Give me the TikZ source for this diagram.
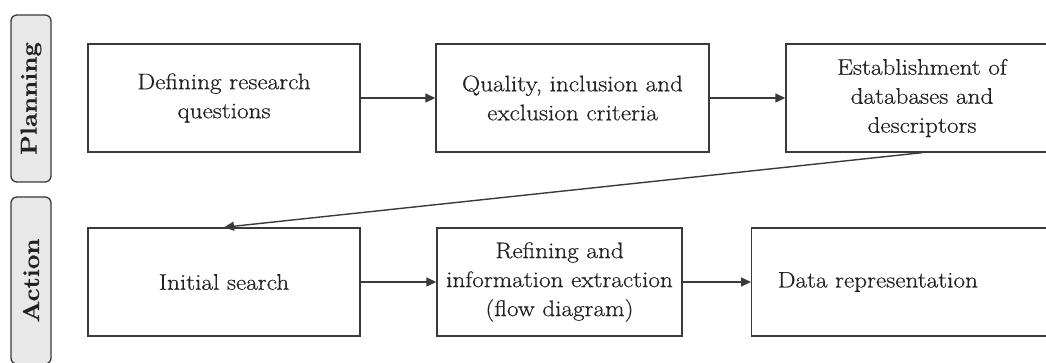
\documentclass[tikz,border=0pt]{standalone}
\usepackage{fontspec}
\setmainfont{Latin Modern Roman}[FakeStretch=1.12, FakeBold=0.6]
\usetikzlibrary{arrows.meta}
\definecolor{linec}{HTML}{3A3A3A}
\definecolor{labfill}{HTML}{E8E8E8}
\definecolor{txtc}{HTML}{222222}
\tikzset{
  stepbox/.style={draw=linec, line width=1.4pt, rectangle, inner sep=0pt, minimum height=108pt, align=center, text=txtc, font=\fontsize{22.5}{29}\selectfont},
  phase/.style={draw=linec, line width=1.3pt, fill=labfill, rounded corners=6pt, rotate=90, minimum width=167pt, minimum height=40pt, inner sep=0pt, text=txtc, font=\fontsize{23}{25}\selectfont\bfseries},
  flow/.style={draw=linec, line width=1.4pt, -{Triangle[length=10pt,width=9pt]}}
}
\begin{document}
\begin{tikzpicture}[x=1pt,y=1pt]
\useasboundingbox (0,0) rectangle (1046,-363);
\clip (0,0) rectangle (1046,-363);
\node[phase] (plan) at (31,-98.5) {Planning};
\node[phase] (act) at (31,-280.5) {Action};
\node[stepbox, minimum width=272pt] (p1) at (224,-98) {Defining research\\questions};
\node[stepbox, minimum width=273pt] (p2) at (572.5,-98) {Quality, inclusion and\\exclusion criteria};
\node[stepbox, minimum width=272pt] (p3) at (922,-98) {Establishment of\\databases and\\descriptors};
\node[stepbox, minimum width=272pt] (a1) at (224,-282) {Initial search};
\node[stepbox, minimum width=245pt] (a2) at (559.5,-282) {Refining and\\information extraction\\(flow diagram)};
\node[stepbox, anchor=west, text width=247pt, inner xsep=26pt, align=left] (a3) at (751,-282) {Data representation};
\draw[flow] (p1.east) -- (p2.west);
\draw[flow] (p2.east) -- (p3.west);
\draw[flow] (p3.south) -- (a1.north);
\draw[flow] (a1.east) -- (a2.west);
\draw[flow] (a2.east) -- (a3.west);
\end{tikzpicture}
\end{document}
